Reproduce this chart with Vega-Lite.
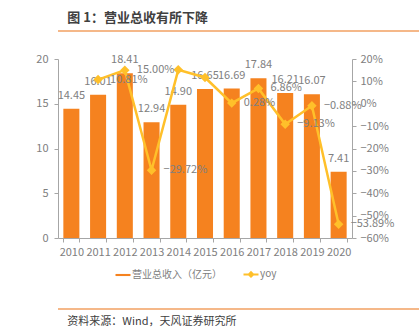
{
  "$schema": "https://vega.github.io/schema/vega-lite/v6.json",
  "padding": {"left": 16, "top": 12, "right": 0, "bottom": 0},
  "autosize": {"type": "pad"},
  "spacing": 21,
  "config": {
    "font": "Noto Sans CJK SC",
    "view": {"stroke": null},
    "axis": {"labelColor": "#808080", "labelFontSize": 11, "domainColor": "#a6a6a6", "tickColor": "#a6a6a6", "tickSize": 4, "grid": false, "title": null, "labelFont": "Noto Sans CJK SC", "labelOverlap": false}
  },
  "vconcat": [
    {
      "width": 386,
      "height": 4,
      "data": {"values": [{"a": 0, "b": 1, "y": 0}]},
      "mark": {"type": "rule", "color": "#F2A062", "strokeWidth": 1.3},
      "encoding": {
        "x": {"field": "a", "type": "quantitative", "scale": {"domain": [0, 1]}, "axis": null},
        "x2": {"field": "b"},
        "y": {"field": "y", "type": "quantitative", "scale": {"domain": [0, 1]}, "axis": null}
      },
      "title": {"text": "图 1：营业总收有所下降", "anchor": "start", "dx": 10, "fontSize": 13, "fontWeight": "bold", "color": "#404040", "offset": 2, "font": "Noto Sans CJK SC"}
    },
    {
      "width": 294,
      "height": 179,
      "data": {"values": [
        {"year": "2010", "revenue": 14.45, "yoy": null},
        {"year": "2011", "revenue": 16.01, "yoy": 0.1081},
        {"year": "2012", "revenue": 18.41, "yoy": 0.1500},
        {"year": "2013", "revenue": 12.94, "yoy": -0.2972},
        {"year": "2014", "revenue": 14.90, "yoy": 0.1515},
        {"year": "2015", "revenue": 16.65, "yoy": 0.1174},
        {"year": "2016", "revenue": 16.69, "yoy": 0.0028},
        {"year": "2017", "revenue": 17.84, "yoy": 0.0686},
        {"year": "2018", "revenue": 16.21, "yoy": -0.0913},
        {"year": "2019", "revenue": 16.07, "yoy": -0.0088},
        {"year": "2020", "revenue": 7.41, "yoy": -0.5389}
      ]},
      "encoding": {
        "x": {"field": "year", "type": "ordinal", "scale": {"paddingInner": 0.4, "paddingOuter": 0.2},
          "axis": {"labelAngle": 0, "tickBand": "extent", "labelPadding": 4, "labelOverlap": false}}
      },
      "layer": [
        {
          "encoding": {
            "y": {"field": "revenue", "type": "quantitative", "scale": {"domain": [0, 20]},
              "axis": {"orient": "left", "values": [0, 5, 10, 15, 20], "minExtent": 42, "labelPadding": 6, "labelOverlap": false}}
          },
          "layer": [
            {
              "mark": {"type": "bar", "color": "#F5821F"},
              "encoding": {
                "color": {"datum": "营业总收入（亿元）", "type": "nominal",
                  "scale": {"domain": ["营业总收入（亿元）", "yoy"], "range": ["#F5821F", "#FFC02A"]},
                  "legend": {
                    "title": null, "orient": "none", "direction": "horizontal", "legendX": 54, "legendY": 236, "padding": 6,
                    "labelColor": "#808080", "labelFontSize": 10, "labelOffset": 4, "columnPadding": 17, "symbolSize": 225,
                    "encode": {"symbols": {"update": {
                      "shape": {"signal": "datum.value === 'yoy' ? 'M-1,0H1M0,-0.3L0.3,0L0,0.3L-0.3,0Z' : 'M-1,-0.14H1V0.14H-1Z'"},
                      "fill": {"signal": "datum.value === 'yoy' ? '#FFC02A' : '#F5821F'"},
                      "stroke": {"signal": "datum.value === 'yoy' ? '#FFC02A' : '#F5821F'"},
                      "strokeWidth": {"signal": "datum.value === 'yoy' ? 2 : 0"},
                      "opacity": {"value": 1}
                    }}}
                  }}
              }
            },
            {
              "mark": {"type": "text", "baseline": "alphabetic", "dy": -10, "color": "#808080", "fontSize": 11},
              "encoding": {
                "text": {"field": "revenue", "type": "quantitative", "format": ".2f"}
              }
            }
          ]
        },
        {
          "transform": [{"filter": "isValid(datum.yoy)"}],
          "encoding": {
            "y": {"field": "yoy", "type": "quantitative", "scale": {"domain": [-0.6, 0.2]},
              "axis": {"orient": "right", "format": ".0%", "values": [-0.6, -0.5, -0.4, -0.3, -0.2, -0.1, 0, 0.1, 0.2], "labelPadding": 4, "labelOverlap": false}}
          },
          "layer": [
            {
              "mark": {"type": "line", "strokeWidth": 2.5, "point": {"shape": "diamond", "size": 90, "filled": true, "opacity": 1}},
              "encoding": {
                "color": {"datum": "yoy", "type": "nominal"}
              }
            },
            {
              "transform": [{"filter": "datum.year != '2014' && datum.year != '2015'"}],
              "mark": {"type": "text", "align": "left", "baseline": "middle", "dx": 12, "color": "#808080", "fontSize": 11},
              "encoding": {
                "text": {"field": "yoy", "type": "quantitative", "format": ".2%"}
              }
            }
          ]
        }
      ],
      "resolve": {"scale": {"y": "independent"}}
    },
    {
      "width": 386,
      "height": 31,
      "data": {"values": [{"a": 0, "b": 1, "y": 0}]},
      "mark": {"type": "rule", "color": "#F2A062", "strokeWidth": 1.3},
      "encoding": {
        "x": {"field": "a", "type": "quantitative", "scale": {"domain": [0, 1]}, "axis": null},
        "x2": {"field": "b"},
        "y": {"field": "y", "type": "quantitative", "scale": {"domain": [0, 1]}, "axis": null}
      },
      "title": {"text": "资料来源：Wind，天风证券研究所", "orient": "bottom", "anchor": "start", "dx": 10, "fontSize": 11, "fontWeight": "normal", "color": "#404040", "offset": 6, "font": "Noto Sans CJK SC"}
    }
  ]
}
